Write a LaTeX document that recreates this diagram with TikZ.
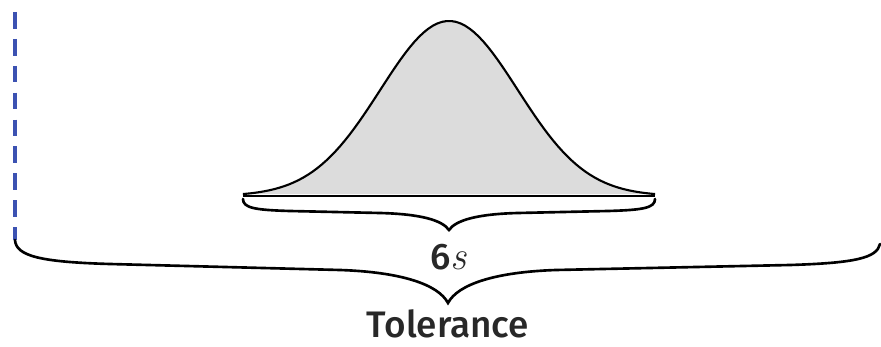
\documentclass[tikz,border=0pt]{standalone}
\usepackage{fontspec}
\setsansfont{Fira Sans}
\newfontfamily\labelfont{Fira Sans Medium}
\usepackage{tikz}
\usetikzlibrary{calc,positioning}
\definecolor{curvefill}{RGB}{220,220,220}
\definecolor{limitblue}{RGB}{60,82,178}
\definecolor{labelgray}{RGB}{40,40,40}

\begin{document}
\begin{tikzpicture}[x=0.2mm,y=-0.2mm,
    every node/.style={font=\labelfont\fontsize{21}{25}\selectfont,text=labelgray},
    bracepath/.style={draw=black,line width=1.5pt,line cap=round}]
  \useasboundingbox (0,0) rectangle (881,347);
  % tolerance limit
  \coordinate (lsl) at (15,240);
  \coordinate (lsltop) at (15,12);
  \coordinate (usl) at (880,244);
  \draw[limitblue,line width=1.9pt,dash pattern=on 9.5pt off 5.8pt] (lsltop) -- (lsl);
  % bell curve
  \fill[curvefill] plot[domain=-3:3,samples=90] ({449+68.7*\x},{196-175*exp(-\x*\x/2)}) -- cycle;
  \draw[line width=1.2pt] plot[domain=-3:3,samples=90] ({449+68.7*\x},{196-175*exp(-\x*\x/2)});
  \draw[line width=1.2pt] (243,196) -- (655,196);
  % small brace (6s)
  \coordinate (sl) at (243,199);
  \coordinate (sr) at (655,199);
  \coordinate (stip) at (449,230);
  \draw[bracepath] (sl) .. controls (243,208) and (255,210) .. (290,211) -- (380,213)
    .. controls (420,214) and (442,220) .. (stip)
    .. controls (456,220) and (478,214) .. (518,213) -- (608,211)
    .. controls (643,210) and (655,208) .. (sr);
  % big brace (tolerance)
  \coordinate (btip) at (448,303);
  \draw[bracepath] (lsl) .. controls (16,256) and (40,262) .. (110,264) -- (340,270)
    .. controls (400,272) and (438,284) .. (btip)
    .. controls (458,284) and (496,272) .. (556,270) -- (790,265)
    .. controls (855,263) and (877,258) .. (usl);
  % labels
  \node[anchor=base] (six) at (449,270) {6\textit{\rmfamily\fontsize{23}{25}\selectfont s}};
  \node[anchor=base] (tol) at (448,338) {Tolerance};
\end{tikzpicture}
\end{document}
